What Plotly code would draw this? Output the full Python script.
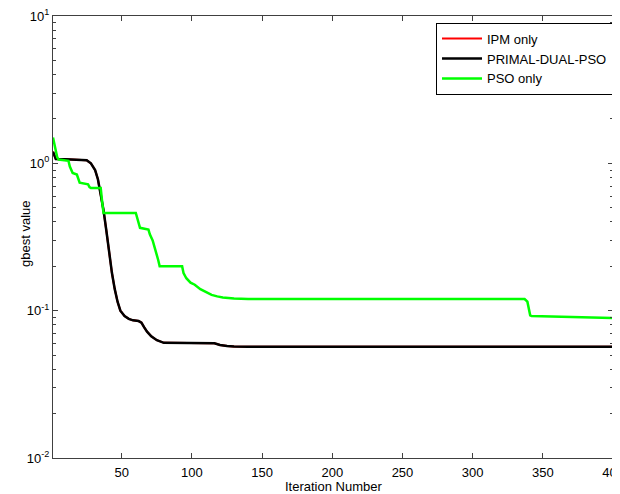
import plotly.graph_objects as go

# Data
pd_iter = [1, 3, 10, 20, 25, 28, 31, 33, 35, 37, 39, 41, 43, 45, 47, 49, 52, 55, 58, 62, 64, 66,
           68, 71, 75, 80, 90, 100, 110, 116, 120, 125, 130, 140, 200, 300, 400]
pd_val = [1.2, 1.07, 1.065, 1.06, 1.05, 1.0, 0.9, 0.78, 0.62, 0.48, 0.35, 0.25, 0.18, 0.14, 0.115,
          0.1, 0.092, 0.088, 0.086, 0.085, 0.083, 0.077, 0.072, 0.067, 0.063, 0.0605, 0.0603, 0.0602,
          0.0602, 0.06, 0.0585, 0.0575, 0.0572, 0.057, 0.057, 0.057, 0.057]

ipm_iter = pd_iter
ipm_val = pd_val

pso_iter = [1, 2, 4, 5, 12, 13, 15, 18, 19, 20, 26, 27, 28, 35, 36, 37, 60, 61, 63, 69, 70, 72, 74,
            76, 77, 93, 94, 96, 99, 102, 106, 110, 114, 118, 122, 130, 140, 200, 300, 337, 339, 340,
            341, 342, 360, 380, 400]
pso_val = [1.5, 1.35, 1.1, 1.06, 1.04, 0.95, 0.86, 0.84, 0.78, 0.74, 0.72, 0.69, 0.68, 0.68, 0.55,
           0.46, 0.46, 0.42, 0.365, 0.355, 0.33, 0.30, 0.26, 0.22, 0.20, 0.20, 0.18, 0.166, 0.155,
           0.15, 0.14, 0.134, 0.128, 0.125, 0.123, 0.121, 0.12, 0.12, 0.12, 0.12, 0.115, 0.105, 0.093,
           0.092, 0.091, 0.0905, 0.089]

x_ticks = [50, 100, 150, 200, 250, 300, 350, 400]
y_ticks = [0.01, 0.1, 1, 10]
y_ticktext = ["10<sup>-2</sup>", "10<sup>-1</sup>", "10<sup>0</sup>", "10<sup>1</sup>"]

minor_vals = [m * d for d in [0.01, 0.1, 1] for m in range(2, 10)]

FONT = "Liberation Sans, Arial, sans-serif"

fig = go.Figure()
fig.add_trace(go.Scatter(x=ipm_iter, y=ipm_val, mode="lines", name="IPM only",
                         line=dict(color="#ff0000", width=2)))
fig.add_trace(go.Scatter(x=pd_iter, y=pd_val, mode="lines", name="PRIMAL-DUAL-PSO",
                         line=dict(color="#000000", width=2.5)))
fig.add_trace(go.Scatter(x=pso_iter, y=pso_val, mode="lines", name="PSO only",
                         line=dict(color="#00ff00", width=2.5)))

axis_common = dict(showline=True, linecolor="#404040", linewidth=1, mirror="ticks",
                   ticks="inside", tickcolor="#404040", ticklen=5, showgrid=False,
                   zeroline=False, automargin=False, ticklabeloverflow="allow",
                   tickfont=dict(family=FONT, size=13, color="#000"))

# page body has an 8px margin, so the figure is 8px smaller and sits at (8, 8)
fig.update_layout(
    width=612, height=486,
    margin=dict(l=45, r=7, t=8, b=36, autoexpand=False),
    paper_bgcolor="white", plot_bgcolor="white",
    font=dict(family=FONT, size=13, color="#000"),
    xaxis=dict(range=[1, 400], tickvals=x_ticks, ticklabelstandoff=2, **axis_common),
    yaxis=dict(type="log", range=[-2, 1], tickvals=y_ticks, ticktext=y_ticktext,
               minor=dict(tickvals=minor_vals, ticks="inside", ticklen=3, tickcolor="#404040"),
               **axis_common),
    legend=dict(x=1.0, y=0.985, xanchor="right", yanchor="top", bgcolor="white",
                bordercolor="#000", borderwidth=1, font=dict(family=FONT, size=13),
                tracegroupgap=0, itemwidth=40),
    showlegend=True,
    annotations=[
        dict(text="Iteration Number", xref="paper", yref="paper", x=0.5, y=0,
             xanchor="center", yanchor="middle", yshift=-28, showarrow=False,
             font=dict(family=FONT, size=13)),
        dict(text="gbest value", xref="paper", yref="paper", x=0, y=0.5,
             xanchor="center", yanchor="middle", xshift=-28, yshift=3, textangle=-90,
             showarrow=False, font=dict(family=FONT, size=13)),
    ],
)

fig.write_html("out.html")
